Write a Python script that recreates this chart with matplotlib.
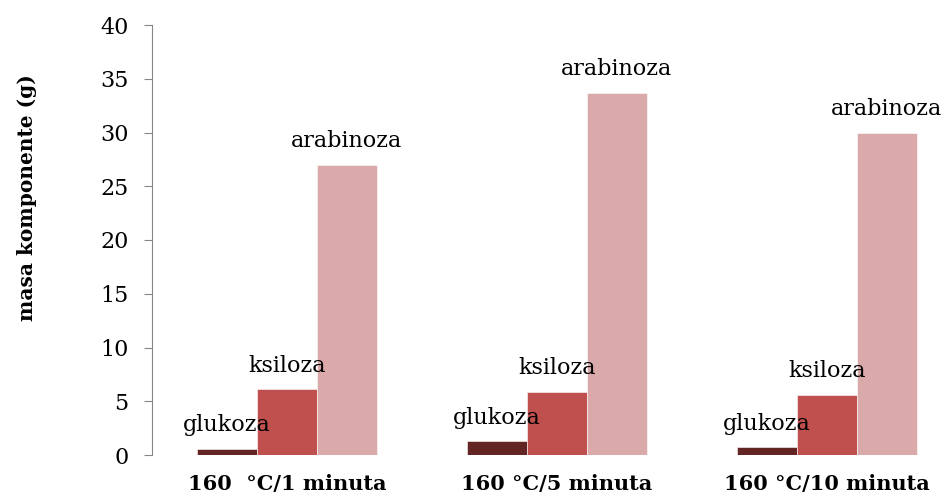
import matplotlib.pyplot as plt
import numpy as np

# data
groups = ["160  °C/1 minuta", "160 °C/5 minuta", "160 °C/10 minuta"]
components = ["glukoza", "ksiloza", "arabinoza"]
glukoza = [0.6, 1.3, 0.7]
ksiloza = [6.1, 5.9, 5.6]
arabinoza = [27.0, 33.7, 30.0]
colors = ["#632523", "#C0504D", "#DAA9A9"]

plt.rcParams['font.family'] = ['DejaVu Serif']

fig = plt.figure(figsize=(9.47, 4.99), dpi=100)
# plot area runs a little past the right edge, like the cropped original
ax = fig.add_axes([152 / 947, 44 / 499, 810 / 947, 430 / 499])

x = np.arange(len(groups))
w = 0.222
series = [glukoza, ksiloza, arabinoza]
for i, (vals, name, c) in enumerate(zip(series, components, colors)):
    pos = x + (i - 1) * w
    ax.bar(pos, vals, width=w, color=c, edgecolor="white", linewidth=0.4)
    for p, v in zip(pos, vals):
        ax.annotate(name, (p, v), xytext=(0, 9), textcoords="offset points",
                    ha="center", va="bottom", fontsize=16)

ax.set_xlim(-0.5, 2.5)
ax.set_ylim(0, 40)
ax.set_yticks(np.arange(0, 41, 5))
ax.set_xticks(x)
ax.set_xticklabels(groups, fontsize=15, fontweight="bold")
ax.tick_params(axis="x", length=0, pad=14)
ax.tick_params(axis="y", labelsize=16, length=6, color="#868686", pad=11)

for s in ["top", "right", "bottom"]:
    ax.spines[s].set_visible(False)
ax.spines["left"].set_color("#868686")

fig.text(27 / 947, 1 - 198 / 499, "masa komponente (g)", rotation=90,
         ha="center", va="center", fontsize=14.5, fontweight="bold")

fig.savefig("out.png", dpi=100)
